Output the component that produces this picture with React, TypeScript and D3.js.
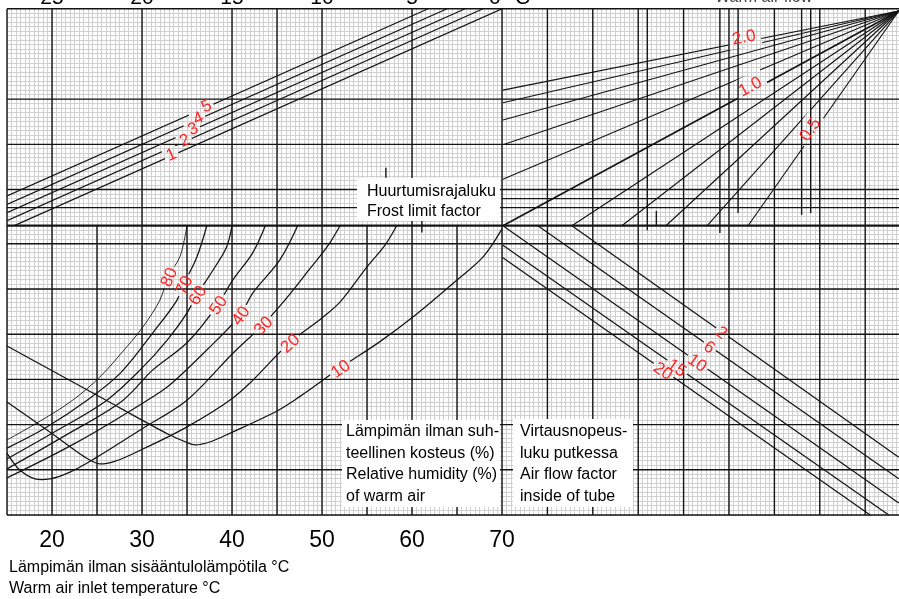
import React from 'react';
import * as d3 from 'd3';

// ---------------- DATA ----------------
// Bottom axis: warm air inlet temperature (°C)
const inletTicks = [20, 30, 40, 50, 60, 70];
// Top axis labels (cut off at the top edge in the original), on the same columns
const topTickLabels = ['25', '20', '15', '10', '5', '0 °C'];

// Relative humidity of warm air (%) — curves as [inlet temperature °C, grid row]
const rhLevels = [80, 70, 60, 50, 40, 30, 20, 10];
const rh80 = [[15, 16.6], [18.7, 20.8], [22.3, 25.4], [25.3, 30.5], [28.3, 37.2], [30.1, 41.6], [32.0, 47.6], [32.9, 52.7], [34.2, 57.1], [35.0, 64]];
const rh70 = [[15, 14.8], [19.2, 19.2], [23.9, 25.4], [27.6, 31.4], [31.2, 40.3], [33.9, 47.6], [34.6, 50.9], [36.1, 57.1], [37.2, 64]];
const rh60 = [[15, 12.4], [20.3, 18.4], [26.1, 25.4], [29.8, 32.1], [32.8, 38.7], [35.0, 44.7], [36.1, 48.7], [37.9, 54.2], [39.4, 59.3], [40.0, 64]];
const rh50 = [[15, 10.2], [21.4, 17.5], [27.9, 25.4], [31.2, 32.1], [35.0, 38.1], [38.4, 46.5], [40.1, 52.0], [42.3, 58.0], [43.7, 64]];
const rh40 = [[15, 8.2], [22.6, 15.9], [30.6, 25.4], [32.8, 28.3], [37.2, 36.5], [40.9, 44.2], [42.3, 49.1], [45.3, 56.4], [47.3, 64]];
const rh30 = [[15, 13.7], [16.4, 10.0], [18.1, 8.0], [19.8, 8.0], [22.0, 9.5], [25.0, 12.8], [30.1, 19.2], [35.0, 25.4], [40.1, 35.8], [43.4, 42.0], [45.9, 47.6], [48.7, 54.6], [50.7, 59.7], [52.0, 64]];
const rh20 = [[15, 25.0], [19.6, 18.6], [24.0, 12.4], [25.3, 11.3], [27.0, 11.9], [30.1, 14.6], [35.0, 19.5], [40.1, 25.9], [42.0, 29.2], [46.4, 38.1], [50.0, 43.6], [52.0, 47.1], [55.0, 54.9], [57.0, 59.7], [58.3, 64]];
const rh10 = [[15, 37.4], [25.0, 26.5], [33.1, 17.7], [34.8, 16.2], [35.9, 15.5], [37.6, 16.2], [40.1, 18.4], [45.0, 23.0], [47.6, 26.3], [52.0, 32.5], [56.4, 38.3], [60.1, 43.8], [65.0, 52.0], [67.9, 57.1], [70.0, 63.3]];
const rhCurves = [rh80, rh70, rh60, rh50, rh40, rh30, rh20, rh10];
const rhLabelT = [32.9, 34.6, 36.1, 38.4, 40.9, 43.4, 46.4, 52.0];

// Frost limit factor lines (top-left): °C where each meets the top edge, grid row at the left edge
const frostFactors = [1, 2, 3, 4, 5];
const frostTopT = [70.0, 67.9, 65.9, 63.9, 61.8];
const frostLeftRow = [63.3, 65.1, 66.9, 68.7, 70.6];
const frostLabelT = [33.3, 34.8, 35.7, 36.3, 37.2];

// Warm air flow fan (top-right): end points in grid [col,row], all meet at the focus
const flowFactors = [2.0, 1.8, 1.6, 1.4, 1.2, 1.0, 0.9, 0.8, 0.7, 0.6, 0.5];
const flowEndCol = [110.2, 110.2, 110.2, 110.2, 110.2, 110.2, 125.4, 136.4, 146.1, 155.2, 164.2];
const flowEndRow = [94.0, 91.2, 87.4, 81.9, 74.3, 64, 64, 64, 64, 64, 64];
const flowFocus = [197.4, 111.5];
const flowLabelled = [0, 5, 10];
const flowLabelFrac = [0.611, 0.63, 0.436];

// Air flow factor inside of tube (bottom-right)
const tubeFactors = [2, 6, 10, 15, 20];
const tubeStartCol = [125.4, 117.9, 110.2, 110.2, 110.2];
const tubeStartRow = [64, 64, 64, 59.7, 56.9];
const tubeEndCol = [197.4, 197.4, 197.4, 195.2, 191.1];
const tubeEndRow = [12.8, 8.0, 2.65, 0, 0];
const tubeLabelCol = [158.5, 155.8, 153.1, 148.6, 145.6];

// ---------------- CHART ----------------
const W = 899;
const H = 599;
const RED = '#ff2424';
const INK = '#141414';
const FONT = '"Liberation Sans", Arial, Helvetica, sans-serif';

type Lab = { text: string; x: number; y: number; a: number; gapH: number };

export default function App() {
  const xg = d3.scaleLinear().domain([0, 110, 198]).range([7, 502, 901.5]);
  const yg = d3.scaleLinear().domain([0, 112]).range([515, 8.76]);
  const xT = d3.scaleLinear().domain([15, 70]).range([xg(0), xg(110)]);

  const rhLine = d3
    .line<number[]>()
    .x((d) => xT(d[0]))
    .y((d) => yg(d[1]))
    .curve(d3.curveCatmullRom.alpha(0.5));

  const interp = (pts: number[][], t: number) => {
    for (let i = 0; i < pts.length - 1; i++) {
      const [a0, b0] = pts[i];
      const [a1, b1] = pts[i + 1];
      if (t >= a0 && t <= a1) return b0 + ((t - a0) / (a1 - a0)) * (b1 - b0);
    }
    return pts[pts.length - 1][1];
  };
  const deg = (dx: number, dy: number) => (Math.atan2(dy, dx) * 180) / Math.PI;

  const labels: Lab[] = [];

  // RH labels
  rhCurves.forEach((pts, i) => {
    const t = rhLabelT[i];
    const x = xT(t), y = yg(interp(pts, t));
    const x1 = xT(t - 0.7), y1 = yg(interp(pts, t - 0.7));
    const x2 = xT(t + 0.7), y2 = yg(interp(pts, t + 0.7));
    labels.push({ text: String(rhLevels[i]), x, y, a: deg(x2 - x1, y2 - y1), gapH: 15 });
  });

  // Frost lines
  const frostSegs = frostFactors.map((f, i) => {
    const p0 = [xT(15), yg(frostLeftRow[i])];
    const p1 = [xT(frostTopT[i]), yg(112)];
    const t = xT(frostLabelT[i]);
    const frac = (t - p0[0]) / (p1[0] - p0[0]);
    const y = p0[1] + frac * (p1[1] - p0[1]);
    const a = deg(p1[0] - p0[0], p1[1] - p0[1]);
    const r = (a * Math.PI) / 180;
    labels.push({ text: String(f), x: t + Math.sin(r) * 2, y: y - Math.cos(r) * 2, a, gapH: 15 });
    return [p0, p1];
  });

  // Fan lines
  const fanSegs = flowFactors.map((f, i) => {
    const p0 = [xg(flowEndCol[i]), yg(flowEndRow[i])];
    const p1 = [xg(flowFocus[0]), yg(flowFocus[1])];
    return [p0, p1];
  });
  flowLabelled.forEach((idx, k) => {
    const [p0, p1] = fanSegs[idx];
    const fr = flowLabelFrac[k];
    const x = p0[0] + fr * (p1[0] - p0[0]);
    const y = p0[1] + fr * (p1[1] - p0[1]);
    const a = deg(p1[0] - p0[0], p1[1] - p0[1]);
    const r = (a * Math.PI) / 180;
    const off = 5.5;
    labels.push({ text: flowFactors[idx].toFixed(1), x: x + Math.sin(r) * off, y: y - Math.cos(r) * off, a, gapH: 22 });
  });

  // Tube lines
  const tubeSegs = tubeFactors.map((f, i) => {
    const p0 = [xg(tubeStartCol[i]), yg(tubeStartRow[i])];
    const p1 = [xg(tubeEndCol[i]), yg(tubeEndRow[i])];
    const lx = xg(tubeLabelCol[i]);
    const fr = (lx - p0[0]) / (p1[0] - p0[0]);
    const y = p0[1] + fr * (p1[1] - p0[1]);
    labels.push({ text: String(f), x: lx, y, a: deg(p1[0] - p0[0], p1[1] - p0[1]), gapH: 15 });
    return [p0, p1];
  });

  // Grid structure
  const cols = d3.range(0, 199);
  const rows = d3.range(0, 113);
  const blackV: number[][] = [
    ...d3.range(10, 191, 10).map((c) => [c, 0, 64]),
    ...[10, 30, 50, 60, 70, 90, 110, 120, 130, 140, 150, 160, 170, 180, 190].map((c) => [c, 64, 112]),
    [142, 63, 112], [158, 62.4, 112], [162, 66.8, 112], [176, 66.4, 112], [178, 66.8, 112],
    [144, 64, 67.3], [84.2, 74.6, 76.8], [92.2, 62.5, 66.2],
    [0, 0, 112],
  ];
  const blackH: number[][] = [
    ...d3.range(0, 61, 10).map((r) => [r, 0, 198]),
    [68, 0, 198], [70, 110, 198], [72, 0, 198], [82, 0, 198], [92, 0, 198], [112, 0, 198],
  ];

  const fs = 17;

  return (
    <svg
      width={W}
      height={H}
      viewBox={`0 0 ${W} ${H}`}
      style={{ position: 'absolute', left: 0, top: 0, background: '#fff', fontFamily: FONT }}
    >
      <defs>
        <clipPath id="tl">
          <rect x={xg(0)} y={yg(112)} width={xg(110) - xg(0)} height={yg(64) - yg(112)} />
        </clipPath>
        <mask id="gaps" maskUnits="userSpaceOnUse" x={0} y={0} width={W} height={H}>
          <rect x={0} y={0} width={W} height={H} fill="white" />
          {labels.map((l, i) => {
            const w = l.text.length * fs * 0.56 + 5;
            return (
              <rect
                key={i}
                x={-w / 2}
                y={-l.gapH / 2}
                width={w}
                height={l.gapH}
                fill="black"
                transform={`translate(${l.x},${l.y}) rotate(${l.a})`}
              />
            );
          })}
        </mask>
      </defs>
      <rect x={0} y={0} width={W} height={H} fill="#fff" />

      {/* minor grid */}
      <g stroke="#d0d0d0" strokeWidth={1} shapeRendering="crispEdges">
        {cols.map((c) => (
          <line key={'v' + c} x1={xg(c)} x2={xg(c)} y1={yg(0)} y2={yg(112)} />
        ))}
        {rows.map((r) => (
          <line key={'h' + r} x1={xg(0)} x2={xg(198)} y1={yg(r)} y2={yg(r)} />
        ))}
      </g>

      {/* major grid */}
      <g stroke={INK} strokeWidth={1.4}>
        {blackV.map((d, i) => (
          <line key={'bv' + i} x1={xg(d[0])} x2={xg(d[0])} y1={yg(d[1])} y2={yg(d[2])} />
        ))}
        {blackH.map((d, i) => (
          <line key={'bh' + i} x1={xg(d[1])} x2={xg(d[2])} y1={yg(d[0])} y2={yg(d[0])} />
        ))}
        <line x1={xg(0)} x2={xg(198)} y1={yg(64)} y2={yg(64)} strokeWidth={2.2} />
      </g>

      {/* curve families */}
      <g mask="url(#gaps)" fill="none" stroke={INK}>
        {rhCurves.map((pts, i) => (
          <path key={'rh' + i} d={rhLine(pts as any) || ''} strokeWidth={i === 0 ? 0.9 : 1.25} />
        ))}
        <g clipPath="url(#tl)">
          {frostSegs.map((s, i) => (
            <line key={'fr' + i} x1={s[0][0]} y1={s[0][1]} x2={s[1][0]} y2={s[1][1]} strokeWidth={1.3} />
          ))}
        </g>
        {fanSegs.map((s, i) => (
          <line key={'fan' + i} x1={s[0][0]} y1={s[0][1]} x2={s[1][0]} y2={s[1][1]} strokeWidth={i === 5 ? 1.7 : 1.15} />
        ))}
        {tubeSegs.map((s, i) => (
          <line key={'tb' + i} x1={s[0][0]} y1={s[0][1]} x2={s[1][0]} y2={s[1][1]} strokeWidth={1.25} />
        ))}
      </g>

      {/* text boxes */}
      <g fontSize={16} fill="#000">
        <rect x={357} y={178} width={143} height={43} fill="#fff" />
        <text x={367} y={196}>Huurtumisrajaluku</text>
        <text x={367} y={216}>Frost limit factor</text>

        <rect x={342} y={420} width={158} height={87} fill="#fff" />
        <text x={346} y={436}>Lämpimän ilman suh-</text>
        <text x={346} y={457.5}>teellinen kosteus (%)</text>
        <text x={346} y={479}>Relative humidity (%)</text>
        <text x={346} y={500.5}>of warm air</text>

        <rect x={513} y={419} width={120} height={88} fill="#fff" />
        <text x={520} y={436}>Virtausnopeus-</text>
        <text x={520} y={457.5}>luku putkessa</text>
        <text x={520} y={479}>Air flow factor</text>
        <text x={520} y={500.5}>inside of tube</text>
      </g>

      {/* red labels */}
      <g fill={RED} fontSize={fs} textAnchor="middle">
        {labels.map((l, i) => (
          <text key={'lab' + i} dy="0.36em" transform={`translate(${l.x},${l.y}) rotate(${l.a})`}>
            {l.text}
          </text>
        ))}
      </g>

      {/* bottom axis */}
      <g fontSize={23} textAnchor="middle" fill="#000">
        {inletTicks.map((t) => (
          <text key={'bt' + t} x={xT(t)} y={547}>
            {t}
          </text>
        ))}
      </g>
      <g fontSize={16} fill="#000">
        <text x={9} y={572}>Lämpimän ilman sisääntulolämpötila °C</text>
        <text x={9} y={593}>Warm air inlet temperature °C</text>
      </g>

      {/* top axis (cut off at the top edge, as in the original) */}
      <g fontSize={21} fill="#000">
        {topTickLabels.map((s, i) => (
          <text
            key={'tt' + i}
            x={i === topTickLabels.length - 1 ? xT(inletTicks[i]) - 13 : xT(inletTicks[i])}
            y={4}
            textAnchor={i === topTickLabels.length - 1 ? 'start' : 'middle'}
          >
            {s}
          </text>
        ))}
        <text x={715} y={2} fontSize={16} fill="#444">
          Warm air flow
        </text>
      </g>
    </svg>
  );
}
